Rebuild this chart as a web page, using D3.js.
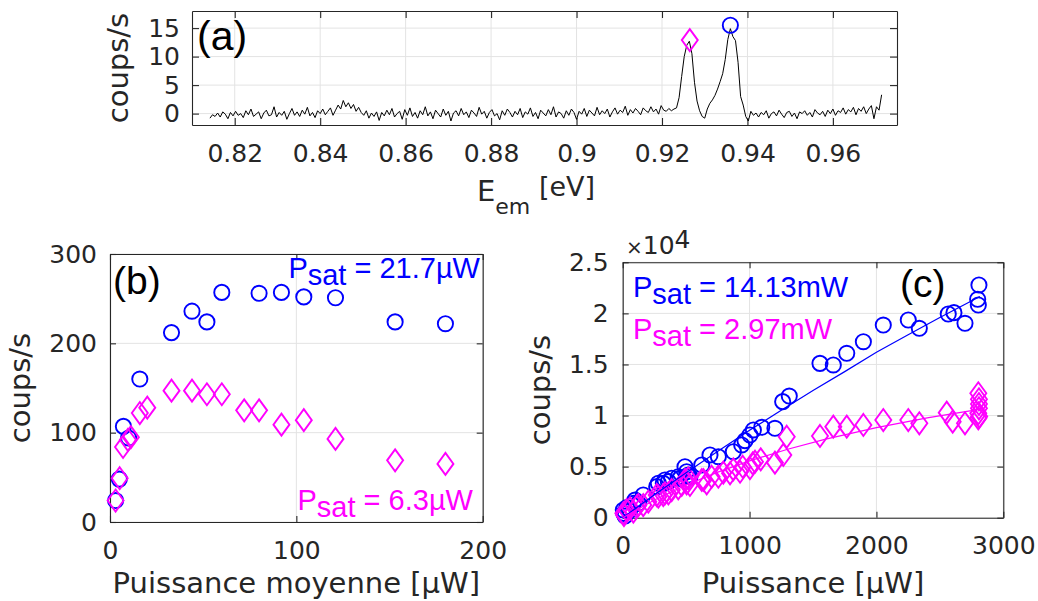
<!DOCTYPE html>
<html><head><meta charset="utf-8">
<script src="https://cdn.jsdelivr.net/npm/d3@7"></script>
<style>body{margin:0;background:#fff} svg{display:block}</style>
</head><body>
<script>
// ---------- Panel (a): spectrum ----------
const specStart = 0.8142, specStep = 0.0006;
const specCounts = [
-0.8,-0.2,-0.5,0.1,-0.6,0.3,-0.1,-0.9,0.2,-0.4,
0.4,-0.3,0.0,-0.7,0.5,-0.2,0.8,-0.5,-0.1,0.3,
-0.9,0.1,0.6,-0.4,-0.2,1.2,-0.6,0.2,-0.3,0.4,
-1.0,0.0,0.9,-0.3,0.3,-0.5,0.6,-0.1,1.1,-0.4,
0.2,-0.7,0.5,0.0,0.8,-0.2,0.4,1.0,-0.3,0.6,
1.5,0.8,2.3,1.2,1.9,0.9,1.6,0.4,1.1,0.2,
-0.3,0.5,-0.8,0.1,-0.5,0.3,-1.2,0.2,-0.4,0.6,
-0.2,0.9,-0.6,0.0,0.4,-1.0,0.7,-0.3,1.0,-0.5,
0.2,-0.8,0.5,-0.2,1.2,-0.4,0.3,-0.9,0.6,0.0,
-0.6,0.8,-0.3,0.4,-1.3,0.1,0.5,-0.4,0.9,-0.2,
0.3,-0.7,0.6,0.1,-0.5,1.1,-0.1,0.4,-0.8,0.2,
0.7,-0.4,0.0,-1.1,0.5,-0.3,0.8,0.2,-0.6,0.4,
-0.2,0.9,-0.7,0.3,-0.1,1.0,-0.5,0.2,-0.9,0.6,
0.1,-0.4,0.7,-0.2,1.2,-0.6,0.3,0.0,-0.8,0.5,
-0.3,0.8,0.2,-1.0,0.4,-0.1,0.9,-0.5,0.6,0.1,
-0.4,1.1,-0.2,0.5,0.0,0.8,-0.6,0.3,1.0,-0.1,
0.6,0.2,1.3,-0.3,0.7,0.1,0.9,0.4,-0.2,1.0,
0.5,0.2,1.2,0.3,0.8,-0.1,1.4,0.6,0.4,0.9,
0.5,0.8,1.0,2.8,6.5,10.0,12.0,12.7,10.5,5.5,
2.2,0.5,-0.5,-0.8,0.8,1.8,2.4,3.2,4.3,5.6,
7.0,9.5,13.0,14.9,13.5,12.8,9.0,3.0,1.5,-0.5,
-1.3,
0.4,-0.3,0.1,-0.6,0.2,-0.2,0.5,-0.8,0.0,0.3,
-0.4,0.6,-0.1,-0.7,0.2,0.4,-0.5,0.1,-0.9,0.3,
0.0,0.5,-0.3,0.2,-0.6,0.7,0.1,-0.2,0.4,-0.5,
0.6,0.0,0.8,-0.3,0.5,0.2,1.0,-0.1,0.7,0.3,
1.1,-0.2,0.9,0.4,1.2,0.0,0.8,1.4,-0.9,1.2,
0.6,3.3];
const peakDiamondE = [0.9265], peakDiamondC = [12.9];
const peakCircleE = [0.936], peakCircleC = [15.5];
const aXTicks = [0.82,0.84,0.86,0.88,0.90,0.92,0.94,0.96];
const aYTicks = [0,5,10,15];

// ---------- Panel (b) ----------
const bCircP = [3,5,7.2,10,16,33,44,52,60,80,92,104,121,153,180];
const bCircC = [24,48,107,94,160,212,236,224,257,256,257,252,251,224,222];
const bDiamP = [3,5.2,7,9.6,11.2,16,20,33,44,52,60,72,80,92,104,121,153,180];
const bDiamC = [24,49,84,92,95,122,128,147,147,143,143,125,125,109,114,93,69,65];
const bXTicks = [0,100,200];
const bYTicks = [0,100,200,300];

// ---------- Panel (c) ----------
const cCircP = [5,10,18,32,55,84,97,123,162,268,281,320,333,360,386,438,452,491,504,517,530,623,688,754,872,938,964,1003,1030,1096,1200,1261,1313,1555,1660,1766,1897,2054,2251,2338,2566,2611,2698,2798,2803,2808];
const cCircC = [750,420,160,1000,700,1400,1730,1400,2220,3040,3370,3360,3690,3520,3860,4010,3850,4990,4500,4180,4020,5160,6140,5970,6460,7120,7540,8100,8590,8850,8750,11360,11910,15110,14950,16090,17230,18860,19350,18540,19940,20070,19030,21380,20820,22780];
const cDiamP = [5,10,31,58,84,110,123,162,202,268,281,320,333,360,386,438,465,491,504,517,530,623,636,662,701,754,793,846,872,925,946,1003,1025,1043,1088,1200,1266,1293,1555,1660,1766,1897,2054,2251,2338,2554,2601,2698,2803,2803,2808,2808,2808,2803,2810];
const cDiamC = [430,260,750,920,590,1080,1240,1240,1570,2220,2060,2220,2390,2380,2710,2880,3200,3690,3370,3860,3200,3690,3690,3370,4010,4010,4410,4350,4730,4500,4990,4840,5320,5480,5710,5390,6140,7930,8000,8910,8910,9080,9560,9560,9240,10280,9400,9240,9730,10220,10710,11130,11590,12180,9900];
const cFitCircP = [0,250,500,750,1000,1250,1500,1750,2000,2250,2500,2816];
const cFitCircC = [0,2240,4400,6500,8550,10520,12450,14300,16200,17900,19600,21650];
const cFitDiamP = [0,250,500,750,1000,1300,1600,2000,2400,2810];
const cFitDiamC = [0,1730,3200,4460,5560,6700,7690,8810,9770,10600];
const cXTicks = [0,1000,2000,3000];
const cYTicks = [0,5000,10000,15000,20000,25000];

const BLUE = "#0000ff", MAG = "#ff00ff", AX = "#262626", GRID = "#e3e3e3";
const TICKFONT = "DejaVu Sans, sans-serif", LABELFONT = "DejaVu Sans, sans-serif", HELV = "Liberation Sans, Arial, sans-serif";

const svg = d3.select("body").append("svg").attr("width", 1038).attr("height", 601);

function panel(o) {
  const x = d3.scaleLinear().domain(o.xdom).range([o.x0, o.x1]);
  const y = d3.scaleLinear().domain(o.ydom).range([o.y1, o.y0]);
  const g = svg.append("g");
  g.append("g").selectAll("line").data(o.xticks).join("line")
    .attr("x1", d => x(d)).attr("x2", d => x(d)).attr("y1", o.y0).attr("y2", o.y1)
    .attr("stroke", GRID).attr("stroke-width", 1);
  g.append("g").selectAll("line").data(o.yticks).join("line")
    .attr("y1", d => y(d)).attr("y2", d => y(d)).attr("x1", o.x0).attr("x2", o.x1)
    .attr("stroke", GRID).attr("stroke-width", 1);
  const tl = o.tickLen;
  const ax = [
    g.append("g").attr("transform", `translate(0,${o.y1})`)
      .call(d3.axisBottom(x).tickValues(o.xticks).tickFormat(o.xfmt).tickSize(-tl).tickSizeOuter(0).tickPadding(19)),
    g.append("g").attr("transform", `translate(0,${o.y0})`)
      .call(d3.axisTop(x).tickValues(o.xticks).tickFormat("").tickSize(-tl).tickSizeOuter(0)),
    g.append("g").attr("transform", `translate(${o.x0},0)`)
      .call(d3.axisLeft(y).tickValues(o.yticks).tickFormat(o.yfmt).tickSize(-tl).tickSizeOuter(0).tickPadding(o.ypad || 13)),
    g.append("g").attr("transform", `translate(${o.x1},0)`)
      .call(d3.axisRight(y).tickValues(o.yticks).tickFormat("").tickSize(-tl).tickSizeOuter(0))
  ];
  ax.forEach(a => {
    a.select(".domain").attr("stroke", AX).attr("stroke-width", 1.1);
    a.selectAll(".tick line").attr("stroke", AX).attr("stroke-width", 1.1);
    a.selectAll(".tick text").attr("fill", AX).style("font-family", TICKFONT).style("font-size", "25px");
  });
  return {x, y, g};
}

function diamonds(g, x, y, P, C, color) {
  g.append("g").selectAll("path").data(P.map((p, i) => [p, C[i]])).join("path")
    .attr("d", "M0,-11L8,0L0,11L-8,0Z")
    .attr("transform", d => `translate(${x(d[0])},${y(d[1])})`)
    .attr("fill", "none").attr("stroke", color).attr("stroke-width", 1.9);
}
function circles(g, x, y, P, C, color) {
  g.append("g").selectAll("circle").data(P.map((p, i) => [p, C[i]])).join("circle")
    .attr("cx", d => x(d[0])).attr("cy", d => y(d[1])).attr("r", 7.6)
    .attr("fill", "none").attr("stroke", color).attr("stroke-width", 1.9);
}
function ylabel(text, xb, yc) {
  svg.append("text").attr("transform", `translate(${xb},${yc}) rotate(-90)`)
    .attr("text-anchor", "middle").attr("fill", AX)
    .style("font-family", LABELFONT).style("font-size", "29px").text(text);
}
function psat(xp, yb, anchor, color, rest) {
  const t = svg.append("text").attr("x", xp).attr("y", yb).attr("text-anchor", anchor)
    .attr("fill", color).style("font-family", HELV).style("font-size", "29px");
  t.append("tspan").text("P");
  t.append("tspan").attr("dy", 7).text("sat");
  t.append("tspan").attr("dy", -7).text(rest);
}
function tag(txt, xp, yb, fs) {
  svg.append("text").attr("x", xp).attr("y", yb).attr("fill", "#000")
    .style("font-family", HELV).style("font-size", fs + "px").text(txt);
}

// ----- (a)
const A = panel({x0:192, x1:897, y0:11, y1:125, xdom:[0.81,0.975], ydom:[-2,18],
  xticks:aXTicks, yticks:aYTicks, xfmt: d => String(+d.toFixed(2)), yfmt: d => String(d), tickLen:7, ypad:12});
const specData = specCounts.map((c, i) => [specStart + specStep * i, c]);
A.g.append("path").datum(specData)
  .attr("d", d3.line().x(d => A.x(d[0])).y(d => A.y(d[1])))
  .attr("fill", "none").attr("stroke", "#000").attr("stroke-width", 1);
diamonds(A.g, A.x, A.y, peakDiamondE, peakDiamondC, MAG);
circles(A.g, A.x, A.y, peakCircleE, peakCircleC, BLUE);
ylabel("coups/s", 128, 68);
{
  const t = svg.append("text").attr("x", 477).attr("y", 201).attr("fill", AX)
    .style("font-family", LABELFONT);
  t.append("tspan").style("font-size", "29px").text("E");
  t.append("tspan").attr("dy", 13).style("font-size", "22px").text("em");
  t.append("tspan").attr("dy", -18).style("font-size", "27px").text(" [eV]");
}
tag("(a)", 197, 50, 41);

// ----- (b)
const B = panel({x0:110, x1:482.7, y0:254, y1:522, xdom:[0,200], ydom:[0,300],
  xticks:bXTicks, yticks:bYTicks, xfmt: d => String(d), yfmt: d => String(d), tickLen:6, ypad:13});
circles(B.g, B.x, B.y, bCircP, bCircC, BLUE);
diamonds(B.g, B.x, B.y, bDiamP, bDiamC, MAG);
ylabel("coups/s", 30, 388);
svg.append("text").attr("x", 296.3).attr("y", 593).attr("text-anchor", "middle").attr("fill", AX)
  .style("font-family", LABELFONT).style("font-size", "29px").text("Puissance moyenne [µW]");
tag("(b)", 113, 294, 39);
psat(480, 278, "end", BLUE, " = 21.7µW");
psat(473, 510, "end", MAG, " = 6.3µW");

// ----- (c)
const Cp = panel({x0:622.7, x1:1003.3, y0:262.3, y1:517.7, xdom:[0,3000], ydom:[0,25000],
  xticks:cXTicks, yticks:cYTicks, xfmt: d => String(d), yfmt: d => String(d / 10000), tickLen:6, ypad:14});
const fitLine = d3.line().x(d => Cp.x(d[0])).y(d => Cp.y(d[1]));
circles(Cp.g, Cp.x, Cp.y, cCircP, cCircC, BLUE);
diamonds(Cp.g, Cp.x, Cp.y, cDiamP, cDiamC, MAG);
Cp.g.append("path").datum(cFitCircP.map((p, i) => [p, cFitCircC[i]])).attr("d", fitLine)
  .attr("fill", "none").attr("stroke", BLUE).attr("stroke-width", 1.2);
Cp.g.append("path").datum(cFitDiamP.map((p, i) => [p, cFitDiamC[i]])).attr("d", fitLine)
  .attr("fill", "none").attr("stroke", MAG).attr("stroke-width", 1.2);
ylabel("coups/s", 550, 390);
svg.append("text").attr("x", 813).attr("y", 593).attr("text-anchor", "middle").attr("fill", AX)
  .style("font-family", LABELFONT).style("font-size", "29px").text("Puissance [µW]");
{
  const t = svg.append("text").attr("x", 626).attr("y", 254).attr("fill", AX)
    .style("font-family", TICKFONT).style("font-size", "25px");
  t.append("tspan").style("font-size", "20px").text("×");
  t.append("tspan").text("10");
  t.append("tspan").attr("dy", -6).text("4");
}
tag("(c)", 900, 297, 39);
psat(633, 297, "start", BLUE, " = 14.13mW");
psat(633, 339, "start", MAG, " = 2.97mW");
</script>
</body></html>
